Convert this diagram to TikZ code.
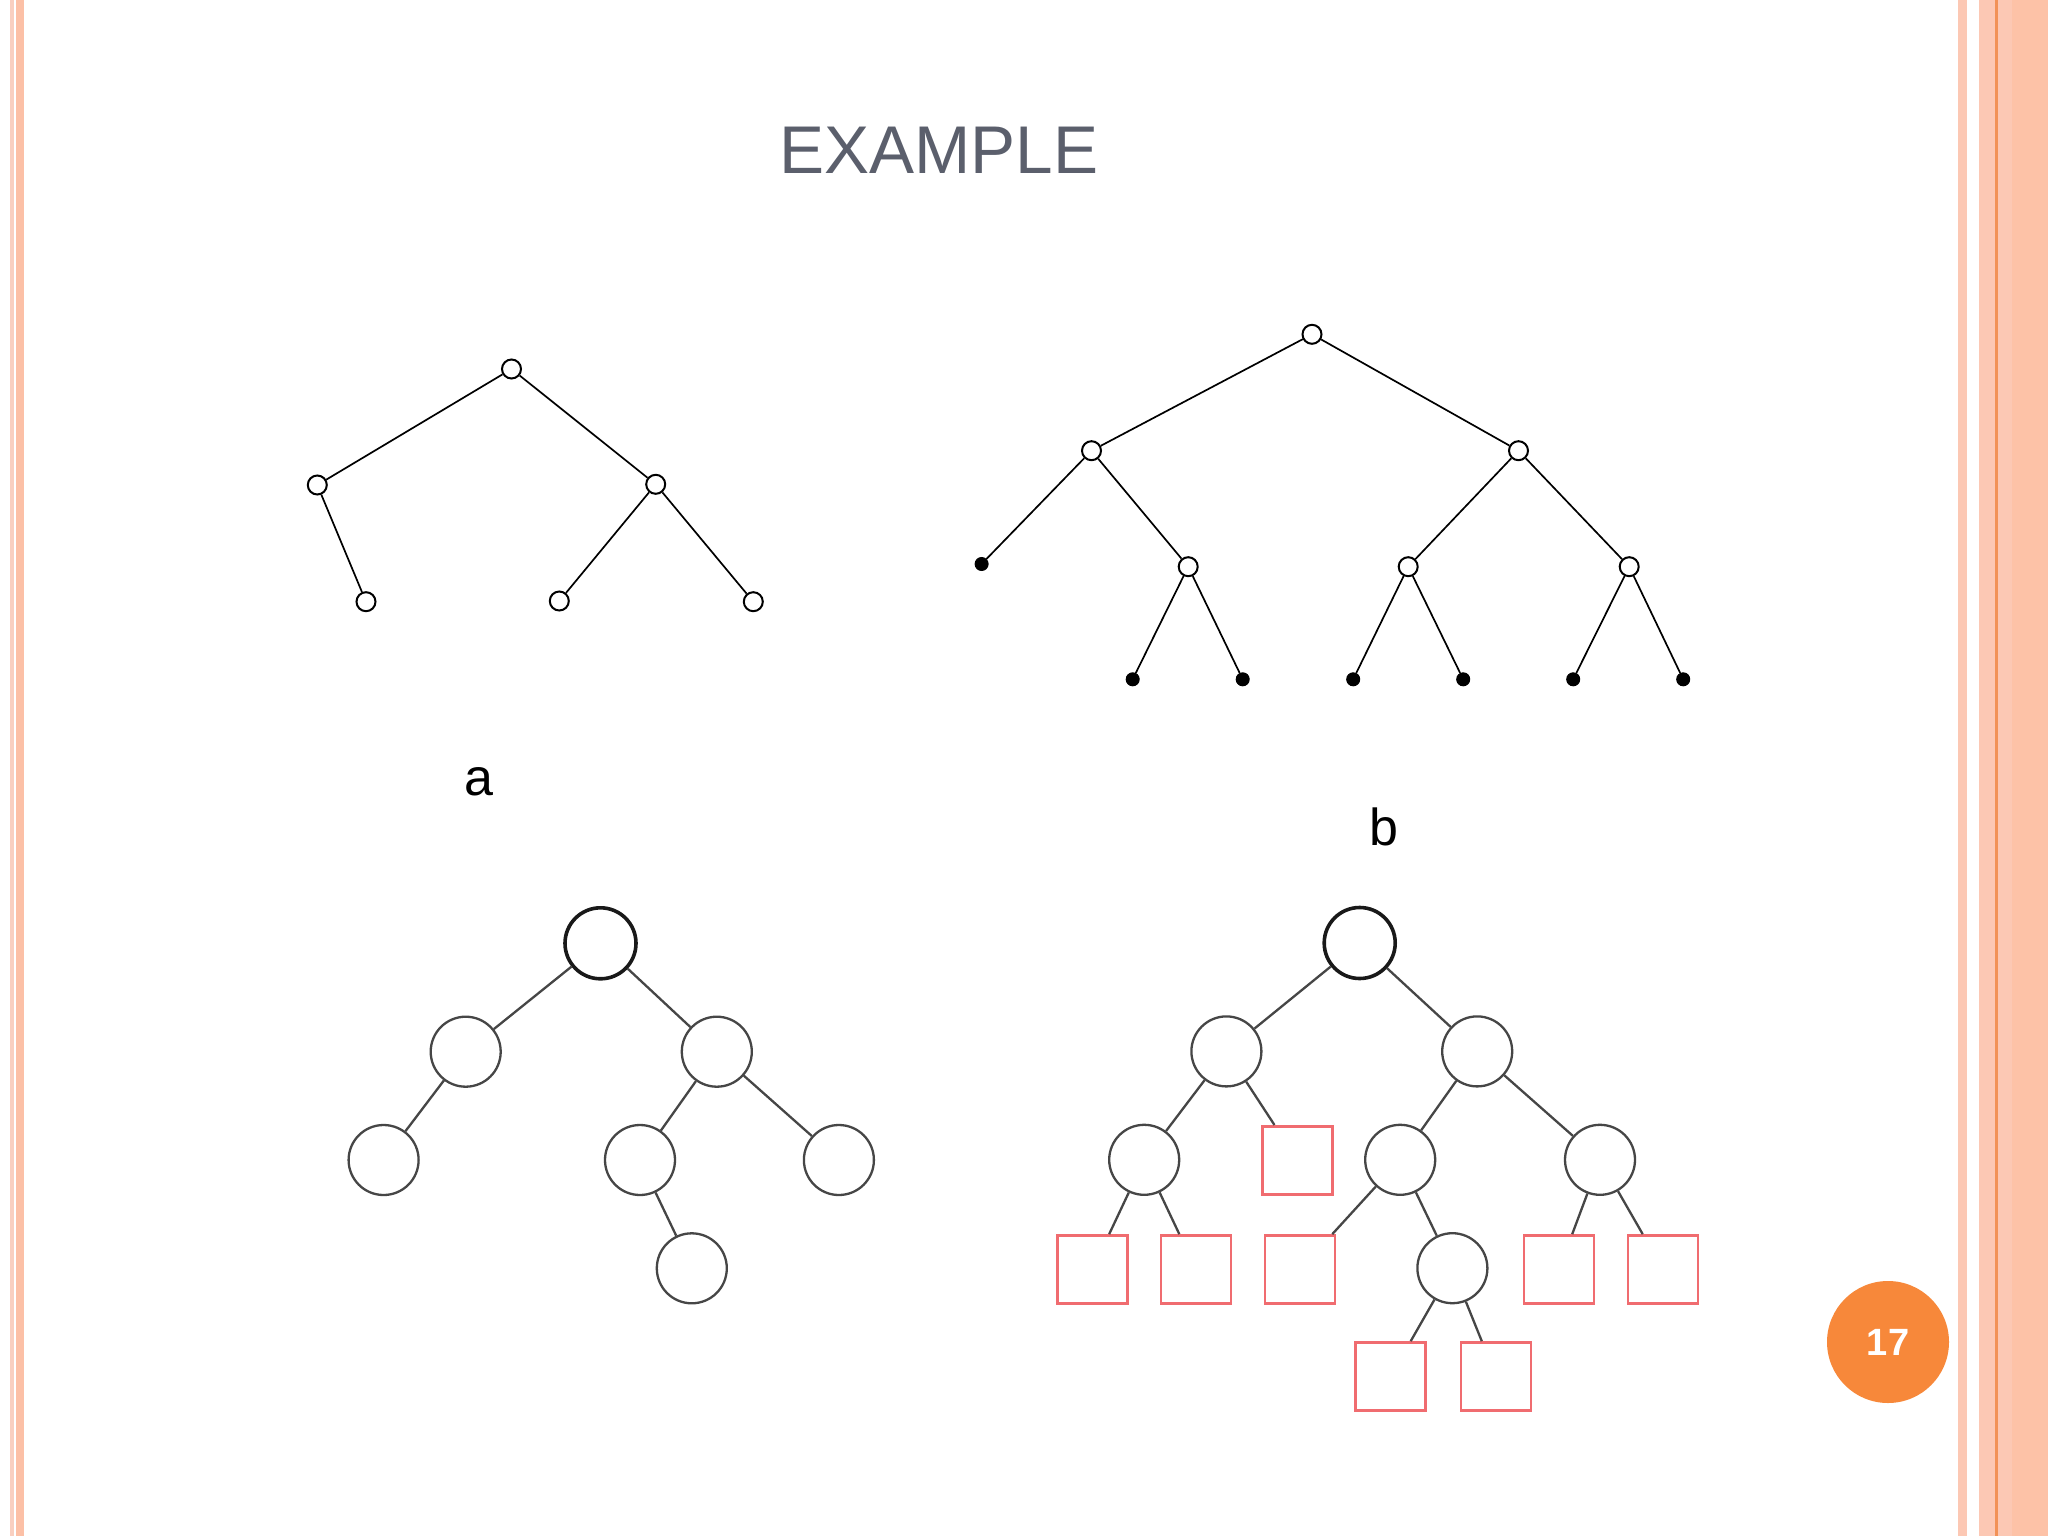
\documentclass[tikz,border=0pt]{standalone}
\usepackage{fontspec}
\setmainfont{Liberation Sans}
\definecolor{titlegray}{RGB}{91,95,108}
\definecolor{stripeA}{RGB}{249,207,192}
\definecolor{stripeB}{RGB}{252,192,166}
\definecolor{stripeC}{RGB}{252,200,180}
\definecolor{stripeD}{RGB}{242,146,87}
\definecolor{stripeE}{RGB}{253,194,167}
\definecolor{badge}{RGB}{247,136,58}
\definecolor{sqred}{RGB}{240,108,112}
\definecolor{nodegray}{RGB}{70,70,70}
\tikzset{
  smallc/.style={circle,draw=black,fill=white,line width=2pt,inner sep=0pt,minimum size=19pt},
  blackc/.style={circle,draw=black,fill=black,line width=1pt,inner sep=0pt,minimum size=13pt},
  bigc/.style={circle,draw=nodegray,fill=white,line width=2.3pt,inner sep=0pt,minimum size=70pt},
  rootc/.style={circle,draw=black!90,fill=white,line width=3.6pt,inner sep=0pt,minimum size=71pt},
  sqbox/.style={rectangle,draw=sqred,fill=white,line width=2.7pt,inner sep=0pt,minimum width=70pt,minimum height=68pt},
  thinedge/.style={line width=1.7pt,black},
  thickedge/.style={line width=2.3pt,nodegray},
  lbl/.style={font=\fontsize{52}{60}\selectfont,text=black,anchor=base,inner sep=0pt}
}
\begin{document}
\begin{tikzpicture}[x=1pt,y=-1pt]
\useasboundingbox (0,0) rectangle (2048,1536);
\fill[white] (0,0) rectangle (2048,1536);
% border stripes
\fill[stripeA] (10,0) rectangle (13.5,1536);
\fill[stripeB] (16,0) rectangle (24,1536);
\fill[stripeC] (1958,0) rectangle (1967,1536);
\fill[stripeC] (1979,0) rectangle (1995,1536);
\fill[stripeD] (1995,0) rectangle (1997.5,1536);
\fill[stripeC] (1997.5,0) rectangle (2012,1536);
\fill[stripeE] (2012,0) rectangle (2048,1536);
% title
\node[anchor=base,inner sep=0pt,text=titlegray,font=\fontsize{67.5}{70}\selectfont] (title) at (939,174) {EXAMPLE};
% page badge
\node[circle,fill=badge,minimum size=122pt,inner sep=0pt,text=white,font=\bfseries\fontsize{38}{40}\selectfont] (badge) at (1888,1342) {17};

% tree a
\node[smallc] (a0) at (511.5,369) {};
\node[smallc] (a1) at (317.3,485) {};
\node[smallc] (a2) at (655.7,484.3) {};
\node[smallc] (a3) at (366,601.7) {};
\node[smallc] (a4) at (559.3,601) {};
\node[smallc] (a5) at (753.3,601.7) {};
\draw[thinedge] (a0) -- (a1);
\draw[thinedge] (a0) -- (a2);
\draw[thinedge] (a1) -- (a3);
\draw[thinedge] (a2) -- (a4);
\draw[thinedge] (a2) -- (a5);
\node[lbl] (la) at (478.5,795) {a};

% tree b
\node[smallc] (b0) at (1312,334.3) {};
\node[smallc] (b1) at (1091.5,450.7) {};
\node[smallc] (b2) at (1518.5,450.7) {};
\node[blackc] (b3) at (981.6,564) {};
\node[smallc] (b4) at (1188.2,566.7) {};
\node[smallc] (b5) at (1408.2,566.7) {};
\node[smallc] (b6) at (1629.2,566.7) {};
\node[blackc] (b7) at (1132.7,679.3) {};
\node[blackc] (b8) at (1242.7,679.3) {};
\node[blackc] (b9) at (1353.2,679.3) {};
\node[blackc] (b10) at (1463.2,679.3) {};
\node[blackc] (b11) at (1573.2,679.3) {};
\node[blackc] (b12) at (1683.2,679.3) {};
\draw[thinedge] (b0) -- (b1);
\draw[thinedge] (b0) -- (b2);
\draw[thinedge] (b1) -- (b3);
\draw[thinedge] (b1) -- (b4);
\draw[thinedge] (b2) -- (b5);
\draw[thinedge] (b2) -- (b6);
\draw[thinedge] (b4) -- (b7);
\draw[thinedge] (b4) -- (b8);
\draw[thinedge] (b5) -- (b9);
\draw[thinedge] (b5) -- (b10);
\draw[thinedge] (b6) -- (b11);
\draw[thinedge] (b6) -- (b12);
\node[lbl] (lb) at (1383.5,845) {b};

% tree c
\node[rootc] (c0) at (600.5,943.3) {};
\node[bigc] (c1) at (465.7,1051.7) {};
\node[bigc] (c2) at (716.8,1051.7) {};
\node[bigc] (c3) at (383.6,1160) {};
\node[bigc] (c4) at (640,1160) {};
\node[bigc] (c5) at (838.9,1160) {};
\node[bigc] (c6) at (691.8,1268.3) {};
\draw[thickedge] (c0) -- (c1);
\draw[thickedge] (c0) -- (c2);
\draw[thickedge] (c1) -- (c3);
\draw[thickedge] (c2) -- (c4);
\draw[thickedge] (c2) -- (c5);
\draw[thickedge] (c4) -- (c6);

% tree d
\node[rootc] (d0) at (1359.7,943) {};
\node[bigc] (d1) at (1226.4,1051.4) {};
\node[bigc] (d2) at (1477.2,1051.4) {};
\node[bigc] (d3) at (1144.2,1159.8) {};
\node[sqbox] (d4) at (1297.5,1160.3) {};
\node[bigc] (d5) at (1400.2,1159.8) {};
\node[bigc] (d6) at (1600,1159.8) {};
\node[sqbox] (d7) at (1092.5,1269.5) {};
\node[sqbox] (d8) at (1196,1269.5) {};
\node[sqbox] (d9) at (1300,1269.5) {};
\node[bigc] (d10) at (1452.4,1268.2) {};
\node[sqbox] (d11) at (1559,1269.5) {};
\node[sqbox] (d12) at (1663,1269.5) {};
\node[sqbox] (d13) at (1390.5,1376.5) {};
\node[sqbox] (d14) at (1496,1376.5) {};
\draw[thickedge] (d0) -- (d1);
\draw[thickedge] (d0) -- (d2);
\draw[thickedge] (d1) -- (d3);
\draw[thickedge] (d1) -- (d4);
\draw[thickedge] (d2) -- (d5);
\draw[thickedge] (d2) -- (d6);
\draw[thickedge] (d3) -- (d7);
\draw[thickedge] (d3) -- (d8);
\draw[thickedge] (d5) -- (d9);
\draw[thickedge] (d5) -- (d10);
\draw[thickedge] (d6) -- (d11);
\draw[thickedge] (d6) -- (d12);
\draw[thickedge] (d10) -- (d13);
\draw[thickedge] (d10) -- (d14);
\end{tikzpicture}
\end{document}
